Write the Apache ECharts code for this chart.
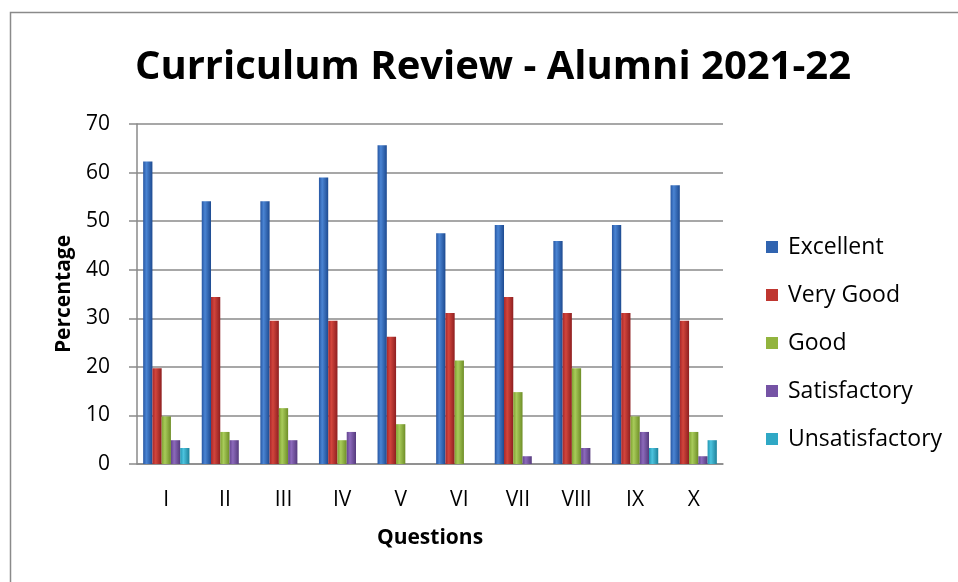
<!DOCTYPE html>
<html>
<head>
<meta charset="utf-8">
<title>Curriculum Review - Alumni 2021-22</title>
<script src="https://cdn.jsdelivr.net/npm/echarts@6/dist/echarts.min.js"></script>
<style>
  html, body { margin: 0; padding: 0; background: #fff; }
  #chart { width: 958px; height: 582px; }
</style>
</head>
<body>
<div id="chart"></div>
<script>
// questions on the x axis
const questions = ['I', 'II', 'III', 'IV', 'V', 'VI', 'VII', 'VIII', 'IX', 'X']

// percentage of alumni per rating
const excellent = [62.3, 54.1, 54.1, 59.0, 65.6, 47.5, 49.2, 45.9, 49.2, 57.4]
const veryGood = [19.7, 34.4, 29.5, 29.5, 26.2, 31.1, 34.4, 31.1, 31.1, 29.5]
const good = [9.8, 6.6, 11.5, 4.9, 8.2, 21.3, 14.8, 19.7, 9.8, 6.6]
const satisfactory = [4.9, 4.9, 4.9, 6.6, 0, 0, 1.6, 3.3, 6.6, 1.6]
const unsatisfactory = [3.3, 0, 0, 0, 0, 0, 0, 0, 3.3, 4.9]

const yTicks = { min: 0, max: 70, interval: 10 }

const font = "'Open Sans', sans-serif"

// cylinder-ish shading: dark edge, light highlight, dark edge
function shade(edge, light, dark) {
  return new echarts.graphic.LinearGradient(0, 0, 1, 0, [
    { offset: 0, color: edge },
    { offset: 0.35, color: light },
    { offset: 1, color: dark }
  ])
}

const ratings = [
  { name: 'Excellent', data: excellent, flat: '#3164B0', fill: shade('#2757A3', '#4A84D3', '#1D4A90') },
  { name: 'Very Good', data: veryGood, flat: '#BF3630', fill: shade('#A8272A', '#D2453C', '#8E1F20') },
  { name: 'Good', data: good, flat: '#92B43E', fill: shade('#7FA231', '#A8CB5A', '#6E8E27') },
  { name: 'Satisfactory', data: satisfactory, flat: '#7553A5', fill: shade('#64448F', '#8C6ABB', '#553A7D') },
  { name: 'Unsatisfactory', data: unsatisfactory, flat: '#2FA8C5', fill: shade('#2497B3', '#4CC3DE', '#1E819A') }
]

const chart = echarts.init(document.getElementById('chart'))

const option = {
  animation: false,
  backgroundColor: '#fff',
  title: {
    text: 'Curriculum Review - Alumni 2021-22',
    left: 488,
    textAlign: 'center',
    top: 38,
    textStyle: {
      fontFamily: font,
      fontSize: 40,
      fontWeight: 'bold',
      color: '#000',
      lineHeight: 50
    }
  },
  legend: {
    orient: 'vertical',
    left: 766,
    top: 234,
    padding: 0,
    itemWidth: 12,
    itemHeight: 12,
    itemGap: 22,
    icon: 'rect',
    textStyle: {
      fontFamily: font,
      fontSize: 23,
      color: '#000',
      lineHeight: 26,
      padding: [0, 0, 0, 5]
    },
    data: ratings.map(r => ({ name: r.name, itemStyle: { color: r.flat } }))
  },
  grid: {
    left: 137,
    right: 235,
    top: 124,
    bottom: 118
  },
  xAxis: {
    type: 'category',
    data: questions,
    name: 'Questions',
    nameLocation: 'middle',
    nameGap: 64,
    nameTextStyle: {
      fontFamily: font,
      fontSize: 21,
      fontWeight: 'bold',
      color: '#000'
    },
    axisLine: { lineStyle: { color: '#8a8a8a', width: 1.5 } },
    axisTick: { show: false },
    axisLabel: {
      margin: 26,
      fontFamily: font,
      fontSize: 21,
      color: '#000'
    }
  },
  yAxis: {
    type: 'value',
    min: yTicks.min,
    max: yTicks.max,
    interval: yTicks.interval,
    name: 'Percentage',
    nameLocation: 'middle',
    nameGap: 62,
    nameTextStyle: {
      fontFamily: font,
      fontSize: 21,
      fontWeight: 'bold',
      color: '#000'
    },
    axisLine: { show: true, lineStyle: { color: '#8a8a8a', width: 1.5 } },
    axisTick: { show: true, length: 8, lineStyle: { color: '#8a8a8a', width: 1.5 } },
    splitLine: { lineStyle: { color: '#8a8a8a', width: 1.5 } },
    axisLabel: {
      margin: 27,
      fontFamily: font,
      fontSize: 21,
      color: '#000'
    }
  },
  graphic: [
    {
      type: 'rect',
      shape: { x: 10.5, y: 12.5, width: 1000, height: 1000 },
      style: { fill: null, stroke: '#8a8a8a', lineWidth: 1.5 },
      silent: true
    }
  ],
  series: ratings.map(r => ({
    name: r.name,
    type: 'bar',
    data: r.data,
    barGap: '0%',
    barCategoryGap: '21%',
    itemStyle: { color: r.fill }
  }))
}

chart.setOption(option)
</script>
</body>
</html>
